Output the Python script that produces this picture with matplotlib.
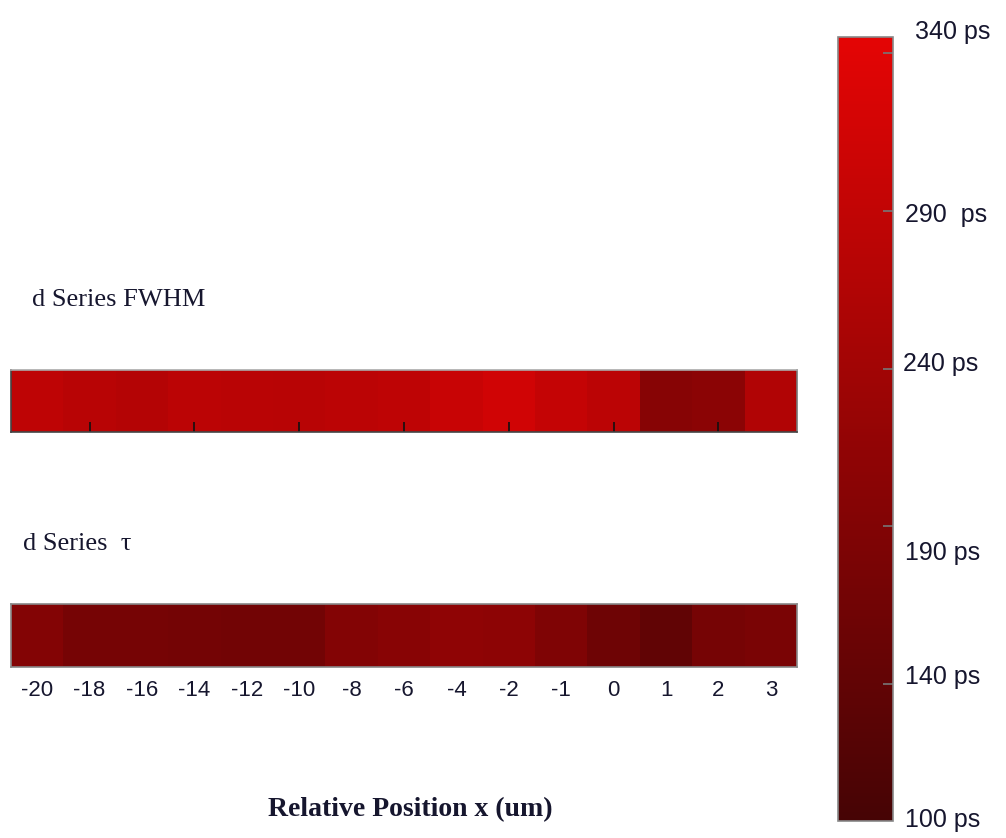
import numpy as np
import matplotlib
matplotlib.use("Agg")
import matplotlib.pyplot as plt
from matplotlib.colors import LinearSegmentedColormap, Normalize
from matplotlib.cm import ScalarMappable

# Relative positions along the sample (um)
positions = ["-20", "-18", "-16", "-14", "-12", "-10", "-8", "-6",
             "-4", "-2", "-1", "0", "1", "2", "3"]

# Pulse FWHM per position (ps)
fwhm_ps = [286, 276, 271, 281, 279, 276, 282, 285,
           301, 314, 295, 282, 199, 206, 266]

# Decay time tau per position (ps)
tau_ps = [193, 174, 174, 170, 167, 167, 193, 202,
          212, 209, 186, 161, 141, 174, 180]

# Colour scale range and labelled ticks (ps)
scale_min, scale_max = 96.6, 345.1
scale_ticks = [340, 290, 240, 190, 140]
scale_labels = ["340 ps", "290  ps", "240 ps", "190 ps", "140 ps", "100 ps"]

cmap = LinearSegmentedColormap.from_list(
    "darkred_red", ["#460405", "#e40505"])
norm = Normalize(vmin=scale_min, vmax=scale_max)

W, H = 1006, 838
fig = plt.figure(figsize=(W / 100, H / 100), dpi=100)

text_color = "#16162e"
sans = "Liberation Sans"
serif = "Liberation Serif"


def fig_rect(x0, y0, x1, y1):
    return [x0 / W, 1 - y1 / H, (x1 - x0) / W, (y1 - y0) / H]


def strip(rect, values, frame_color, tick_color):
    ax = fig.add_axes(rect)
    n = len(values)
    ax.imshow(np.array(values, dtype=float)[None, :], cmap=cmap, norm=norm,
              aspect="auto", extent=(-0.5, n - 0.5, 0, 1),
              interpolation="nearest")
    ax.set_xlim(-0.5, n - 0.5)
    ax.set_ylim(0, 1)
    ax.set_yticks([])
    ax.set_xticks(np.arange(1, n, 2), minor=True)
    ax.tick_params(axis="x", which="minor", direction="in", length=7,
                   width=1.2, color=tick_color, bottom=True, top=False)
    for s in ax.spines.values():
        s.set_color(frame_color)
        s.set_linewidth(1.2)
    return ax


# FWHM strip
ax1 = strip(fig_rect(11, 370, 797, 432), fwhm_ps, "#444444", "#111111")
ax1.set_xticks([])
ax1.spines["top"].set_color("#aaaaaa")
ax1.spines["right"].set_color("#777777")

# tau strip
ax2 = strip(fig_rect(11, 604, 797, 667), tau_ps, "#888888", "#888888")
ax2.set_xticks(np.arange(len(positions)))
ax2.set_xticklabels(positions, fontsize=16, family=sans, color=text_color)
ax2.tick_params(axis="x", which="major", length=0, pad=9)

fig.text(32 / W, 1 - 300 / H, "d Series FWHM", family=serif, fontsize=19,
         color=text_color, ha="left", va="center")
fig.text(23 / W, 1 - 544 / H, "d Series  \u03c4", family=serif, fontsize=19,
         color=text_color, ha="left", va="center")
fig.text(410 / W, 1 - 810 / H, "Relative Position x (um)", family=serif,
         fontsize=20, fontweight="bold", color=text_color,
         ha="center", va="center")

# Colour bar
cax = fig.add_axes(fig_rect(838, 37, 893, 821))
cb = fig.colorbar(ScalarMappable(norm=norm, cmap=cmap), cax=cax,
                  ticks=scale_ticks)
cb.outline.set_edgecolor("#888888")
cb.outline.set_linewidth(1.2)
cax.tick_params(axis="y", direction="in", length=7, width=1.2,
                color="#777777", labelright=False, right=True)

label_xy = [(915, 32), (905, 215), (903, 364), (905, 553), (905, 677),
            (905, 820)]
for (lx, ly), lab in zip(label_xy, scale_labels):
    fig.text(lx / W, 1 - ly / H, lab, family=sans, fontsize=18,
             color=text_color, ha="left", va="center")

fig.savefig("out.png", dpi=100, facecolor="white")
